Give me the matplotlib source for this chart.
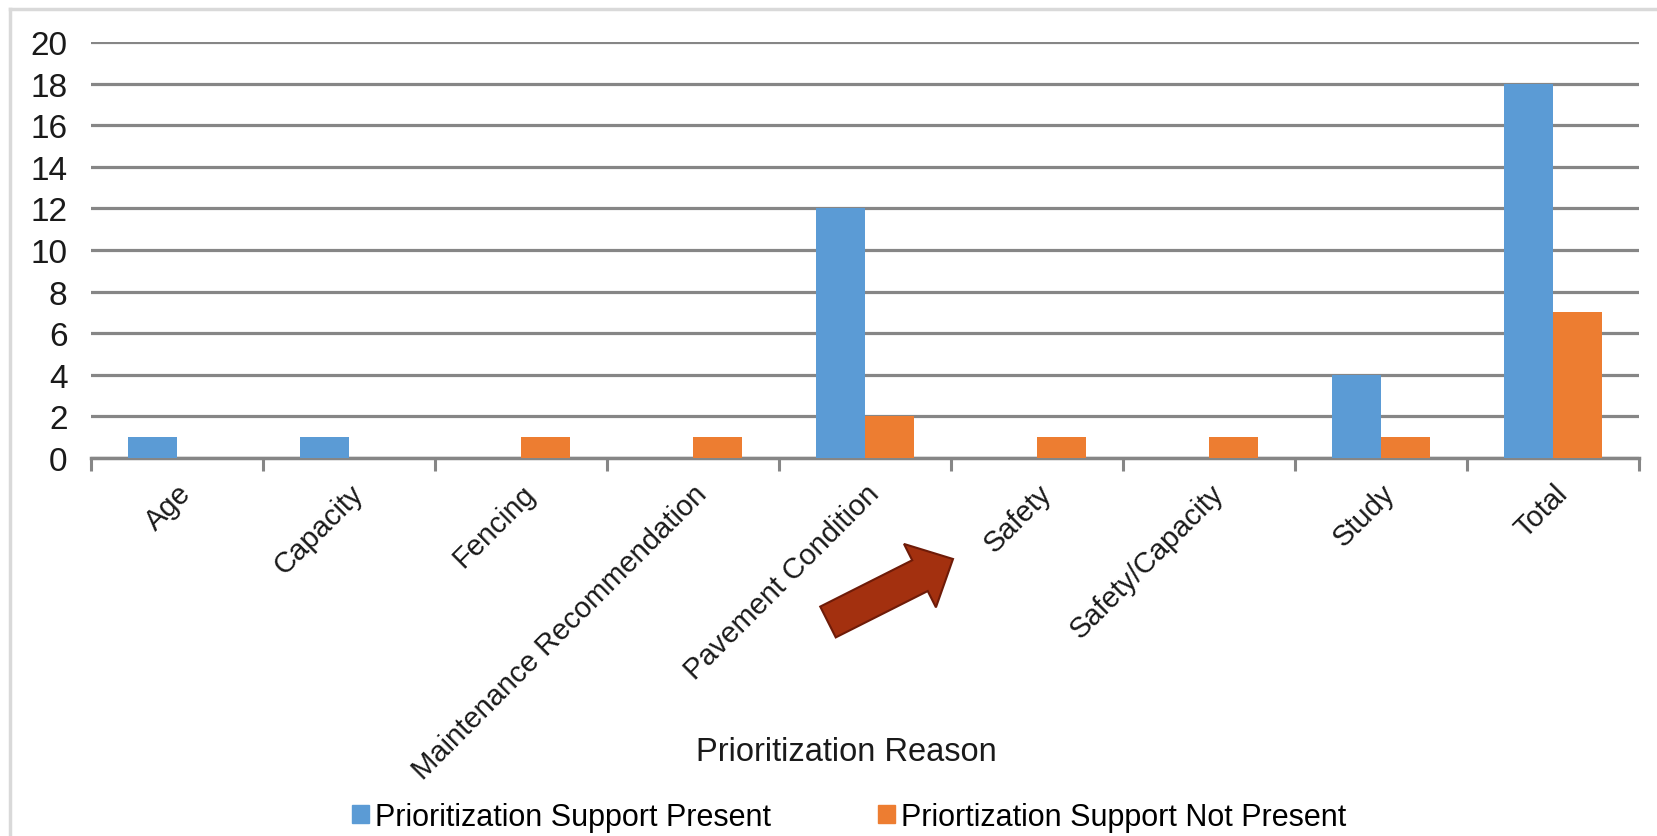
import matplotlib.pyplot as plt
import matplotlib.patches as patches
from matplotlib.lines import Line2D
import numpy as np

plt.rcParams['font.family'] = ['Liberation Sans', 'DejaVu Sans']

categories = ["Age", "Capacity", "Fencing", "Maintenance Recommendation",
              "Pavement Condition", "Safety", "Safety/Capacity", "Study", "Total"]
support_present = [1, 1, 0, 0, 12, 0, 0, 4, 18]
support_not_present = [0, 0, 1, 1, 2, 1, 1, 1, 7]
y_ticks = [0, 2, 4, 6, 8, 10, 12, 14, 16, 18, 20]

BLUE = "#5B9BD5"
ORANGE = "#ED7D31"
GRID = "#868686"

W, H = 1658, 837
fig = plt.figure(figsize=(W / 100, H / 100), dpi=100)
ax = fig.add_axes([91 / W, (H - 459) / H, (1639 - 91) / W, (459 - 43) / H])

x = np.arange(len(categories)) + 0.5
bw = 0.285
ax.bar(x - bw / 2, support_present, bw, color=BLUE, zorder=3)
ax.bar(x + bw / 2, support_not_present, bw, color=ORANGE, zorder=3)

ax.set_xlim(0, len(categories))
ax.set_ylim(0, 20)
ax.set_yticks(y_ticks)
ax.set_yticklabels([str(v) for v in y_ticks], fontsize=24, color="#1a1a1a")
ax.tick_params(axis='y', length=0, pad=17)
ax.yaxis.grid(True, color=GRID, linewidth=2.3, zorder=0)
ax.set_axisbelow(True)

ax.set_xticks(x)
ax.set_xticklabels(categories, rotation=45, ha='right', rotation_mode='anchor',
                   fontsize=21, color="#1a1a1a")
ax.tick_params(axis='x', which='major', length=0, pad=15)
ax.set_xticks(np.arange(len(categories) + 1), minor=True)
ax.tick_params(axis='x', which='minor', length=9, width=2.2, color=GRID)

for s in ['top', 'right', 'left']:
    ax.spines[s].set_visible(False)
ax.spines['bottom'].set_color(GRID)
ax.spines['bottom'].set_linewidth(2.5)

fig.text(846 / W, (H - 753) / H, "Prioritization Reason", fontsize=23.5,
         ha='center', va='center', color="#1a1a1a")

# legend
handles = [patches.Patch(color=BLUE), patches.Patch(color=ORANGE)]
fig.legend(handles, ["Prioritization Support Present", "Priortization Support Not Present"],
           loc='center', bbox_to_anchor=(849 / W, (H - 818) / H), ncol=2,
           frameon=False, fontsize=22, handlelength=0.55, handleheight=0.55,
           handletextpad=0.2, columnspacing=3.5)

# callout arrow
arrow = patches.FancyArrow(8.28, (H - 623) / 100, 1.25, 0.63, width=0.345,
                           head_width=0.71, head_length=0.37, length_includes_head=True,
                           transform=fig.dpi_scale_trans, facecolor="#A3300F",
                           edgecolor="#6E1B08", linewidth=1.5)
fig.patches.append(arrow)

# outer frame (top and left edges visible)
fig.add_artist(Line2D([10 / W, 10 / W], [0, (H - 10) / H], color="#d9d9d9", linewidth=2.5))
fig.add_artist(Line2D([10 / W, 1], [(H - 10) / H, (H - 10) / H], color="#d9d9d9", linewidth=2.5))

fig.savefig("out.png", dpi=100)
